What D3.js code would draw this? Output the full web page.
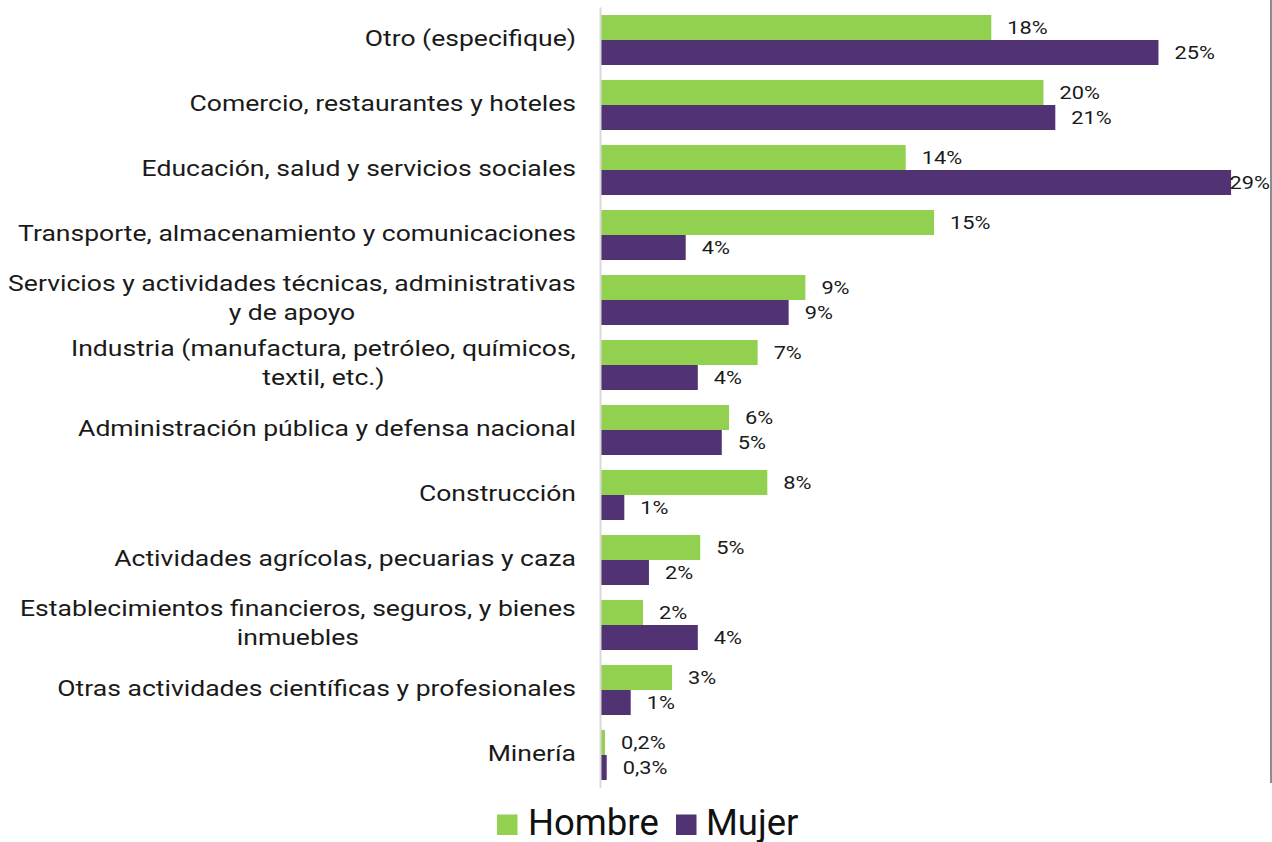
<!DOCTYPE html>
<html>
<head>
<meta charset="utf-8">
<script src="https://cdn.jsdelivr.net/npm/d3@7"></script>
<style>
  html, body { margin: 0; padding: 0; background: #ffffff; }
  svg { display: block; font-family: Roboto, "Noto Sans", sans-serif; }
</style>
</head>
<body>
<svg id="chart" width="1272" height="842"></svg>
<script>
// ---- data ----
const categories = [
  ["Otro (especifique)"],
  ["Comercio, restaurantes y hoteles"],
  ["Educación, salud y servicios sociales"],
  ["Transporte, almacenamiento y comunicaciones"],
  ["Servicios y actividades técnicas, administrativas", "y de apoyo"],
  ["Industria (manufactura, petróleo, químicos,", "textil, etc.)"],
  ["Administración pública y defensa nacional"],
  ["Construcción"],
  ["Actividades agrícolas, pecuarias y caza"],
  ["Establecimientos financieros, seguros, y bienes", "inmuebles"],
  ["Otras actividades científicas y profesionales"],
  ["Minería"]
];
const seriesNames = ["Hombre", "Mujer"];
const hombre = [17.74, 20.11, 13.85, 15.14, 9.29, 7.12, 5.82, 7.56, 4.51, 1.91, 3.23, 0.18];
const mujer  = [25.34, 20.65, 28.64, 3.85, 8.53, 4.40, 5.49, 1.06, 2.18, 4.40, 1.35, 0.26];
const seriesColors = ["#92d050", "#513373"];

// ---- layout ----
const svg = d3.select("#chart");
const x0 = 601, xMaxPx = 1261;
const x = d3.scaleLinear().domain([0, 30]).range([x0, xMaxPx]);
const keys = categories.map((c, i) => i);
const y = d3.scaleBand().domain(keys).range([7.5, 787.5]).paddingInner(15 / 65).paddingOuter(15 / 130);
const ySub = d3.scaleBand().domain([0, 1]).range([0, y.bandwidth()]);

const fmt = v => v < 1 ? d3.format(".1f")(v).replace(".", ",") + "%" : Math.round(v) + "%";
const stretch = 1.235;      // horizontal stretch of category text
const dStretch = 1.21;      // horizontal stretch of data labels

// right frame line
svg.append("line")
  .attr("x1", 1271).attr("x2", 1271).attr("y1", 0).attr("y2", 783)
  .attr("stroke", "#8c8c8c").attr("stroke-width", 2);

const data = [hombre, mujer];

// bars
data.forEach((vals, s) => {
  svg.append("g").selectAll("rect")
    .data(vals)
    .join("rect")
    .attr("x", x(0))
    .attr("y", (d, i) => y(i) + ySub(s))
    .attr("width", d => x(d) - x(0))
    .attr("height", ySub.bandwidth())
    .attr("fill", seriesColors[s]);
});

// data labels
data.forEach((vals, s) => {
  const g = svg.append("g");
  vals.forEach((d, i) => {
    const t = g.append("text")
      .attr("font-size", 18)
      .attr("fill", "#1a1a1a")
      .text(fmt(d));
    const w = t.node().getComputedTextLength() * dStretch;
    const tx = Math.min(x(d) + 16, 1270 - w);
    const ty = y(i) + ySub(s) + ySub.bandwidth() / 2 + 6.5;
    t.attr("transform", `translate(${tx},${ty}) scale(${dStretch},1)`);
  });
});

// axis line
const yAxis = d3.axisLeft(y).tickSize(0).tickFormat("");
const ag = svg.append("g").attr("transform", `translate(${x0 - 0.5},0)`).call(yAxis);
ag.select(".domain").attr("stroke", "#d9d9d9").attr("stroke-width", 2).attr("d", "M0,7.5V788");

// category labels
const labelRight = 576;
const lineGap = 29;
const cg = svg.append("g");
categories.forEach((lines, i) => {
  const cy = y(i) + y.bandwidth() / 2 + 5.5;
  const g = cg.append("g").attr("transform", `translate(${labelRight},${cy}) scale(${stretch},1)`);
  const t = g.append("text")
    .attr("font-size", 21.5)
    .attr("fill", "#1a1a1a")
    .attr("text-anchor", "end");
  if (lines.length === 1) {
    t.attr("x", 0).attr("y", 0).text(lines[0]);
  } else {
    const tmp = svg.append("text").attr("font-size", 21.5).text(lines[0]);
    const w = tmp.node().getComputedTextLength();
    tmp.remove();
    t.attr("text-anchor", "middle");
    lines.forEach((ln, k) => {
      t.append("tspan").attr("x", -w / 2).attr("y", -lineGap / 2 + k * lineGap).text(ln);
    });
  }
});

// legend
const lg = svg.append("g");
const legendItems = [
  {name: seriesNames[0], color: seriesColors[0], sx: 497, tx: 528},
  {name: seriesNames[1], color: seriesColors[1], sx: 676, tx: 706}
];
legendItems.forEach(it => {
  lg.append("rect").attr("x", it.sx).attr("y", 814.5).attr("width", 20.5).attr("height", 20.5).attr("fill", it.color);
  lg.append("text").attr("x", it.tx).attr("y", 835).attr("font-size", 36.5).attr("fill", "#111").text(it.name);
});
</script>
</body>
</html>
